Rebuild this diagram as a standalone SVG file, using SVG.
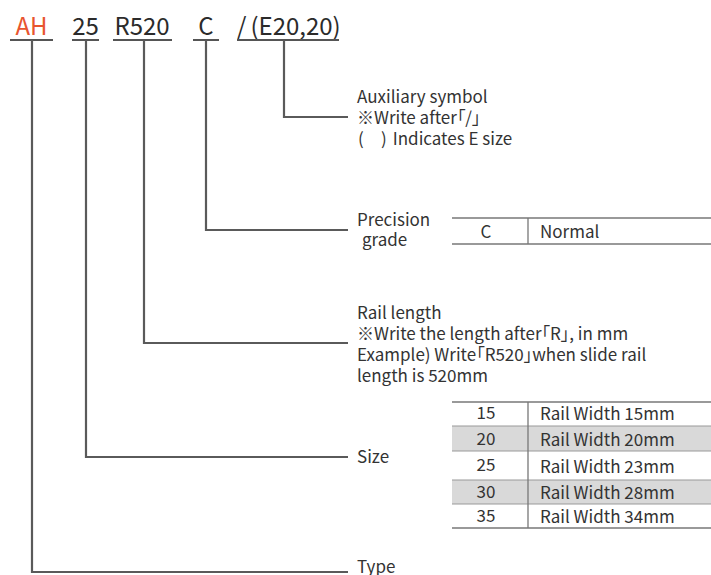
<svg xmlns="http://www.w3.org/2000/svg" width="711" height="575" viewBox="0 0 711 575">
<style>
text{font-family:"Noto Sans CJK JP","Noto Sans",sans-serif;fill:#333;}
.code{font-size:24px;text-anchor:middle;fill:#2b2b2b;}
.lbl{font-size:17px;font-feature-settings:"palt";}
.cell{font-size:17px;}
.c{text-anchor:middle;}
.ul{stroke:#555;stroke-width:2;fill:none;}
.conn{stroke:#5a5a5a;stroke-width:2.2;fill:none;}
.tl{stroke:#777;stroke-width:1.3;fill:none;}
.sep{stroke:#999;stroke-width:1;fill:none;}
.g{fill:#d9d9d9;}
</style>
<rect width="711" height="575" fill="#fff"/>
<g id="code">
<text class="code" x="31.5" y="35" style="fill:#e8552f">AH</text>
<text class="code" x="85.5" y="35">25</text>
<text class="code" x="142" y="35">R520</text>
<text class="code" x="206" y="35">C</text>
<text class="code" x="237" y="35" style="text-anchor:start">/<tspan dx="4">(E20,20)</tspan></text>
<line class="ul" x1="10" y1="40" x2="53" y2="40"/>
<line class="ul" x1="72" y1="40" x2="99" y2="40"/>
<line class="ul" x1="113" y1="40" x2="172" y2="40"/>
<line class="ul" x1="193" y1="40" x2="219" y2="40"/>
<line class="ul" x1="237" y1="40" x2="339" y2="40"/>
</g>
<g id="connectors">
<polyline class="conn" points="32,40 32,572 348,572"/>
<polyline class="conn" points="86,40 86,457 348,457"/>
<polyline class="conn" points="144,40 144,343 348,343"/>
<polyline class="conn" points="206,40 206,230 348,230"/>
<polyline class="conn" points="284,40 284,117 348,117"/>
</g>
<g id="aux">
<text class="lbl" x="357" y="103">Auxiliary symbol</text>
<text class="lbl" x="357" y="124">※Write after「/」</text>
<text class="lbl" x="358" y="145">(<tspan x="381">)</tspan><tspan dx="6">Indicates E size</tspan></text>
</g>
<g id="precision">
<text class="lbl" x="357" y="226">Precision</text>
<text class="lbl" x="362" y="246">grade</text>
<line class="tl" x1="452" y1="218" x2="711" y2="218"/>
<line class="tl" x1="452" y1="244" x2="711" y2="244"/>
<line class="tl" x1="528" y1="218" x2="528" y2="244"/>
<text class="cell c" x="486" y="238">C</text>
<text class="cell" x="540" y="238">Normal</text>
</g>
<g id="rail-length">
<text class="lbl" x="357" y="319">Rail length</text>
<text class="lbl" x="357" y="340">※Write the length after「R」, in mm</text>
<text class="lbl" x="357" y="361">Example) Write「R520」when slide rail</text>
<text class="lbl" x="357" y="382">length is 520mm</text>
</g>
<g id="size">
<text class="lbl" x="357" y="463">Size</text>
<rect class="g" x="452" y="426" width="259" height="25"/>
<rect class="g" x="452" y="480" width="259" height="24"/>
<line class="tl" x1="452" y1="402" x2="711" y2="402"/>
<line class="sep" x1="452" y1="426" x2="711" y2="426"/>
<line class="sep" x1="452" y1="451" x2="711" y2="451"/>
<line class="sep" x1="452" y1="480" x2="711" y2="480"/>
<line class="sep" x1="452" y1="504" x2="711" y2="504"/>
<line class="tl" x1="452" y1="528" x2="711" y2="528"/>
<line class="tl" x1="528" y1="402" x2="528" y2="528"/>
<text class="cell c" x="486" y="419">15</text>
<text class="cell" x="540" y="420">Rail Width 15mm</text>
<text class="cell c" x="486" y="445">20</text>
<text class="cell" x="540" y="446">Rail Width 20mm</text>
<text class="cell c" x="486" y="471">25</text>
<text class="cell" x="540" y="473">Rail Width 23mm</text>
<text class="cell c" x="486" y="498">30</text>
<text class="cell" x="540" y="499">Rail Width 28mm</text>
<text class="cell c" x="486" y="522">35</text>
<text class="cell" x="540" y="523">Rail Width 34mm</text>
</g>
<g id="type">
<text class="lbl" x="357" y="573">Type</text>
</g>
</svg>
